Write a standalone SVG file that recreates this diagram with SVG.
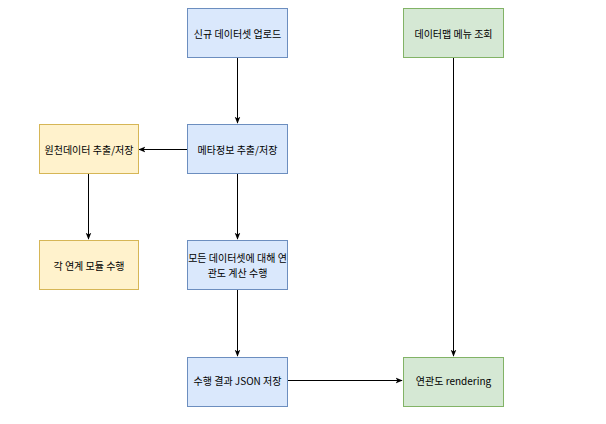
<svg xmlns="http://www.w3.org/2000/svg" width="606" height="424" viewBox="0 0 606 424">
<style>
.box{stroke-width:1}
.blue{fill:#dae8fc;stroke:#6c8ebf}
.yellow{fill:#fff2cc;stroke:#d6b656}
.green{fill:#d5e8d4;stroke:#82b366}
text{font-family:"Noto Sans CJK KR","Noto Sans",sans-serif;font-size:10px;fill:#000;text-anchor:middle;dominant-baseline:central}
.edge{stroke:#000;stroke-width:1;fill:none;marker-end:url(#arr)}
</style>
<defs>
<marker id="arr" viewBox="0 0 10 10" refX="9" refY="5" markerWidth="7" markerHeight="7" markerUnits="userSpaceOnUse" orient="auto">
<path d="M0,1 L10,5 L0,9 L2.5,5 Z" fill="#000"/>
</marker>
</defs>
<rect width="606" height="424" fill="#fff"/>
<g id="edges">
<path class="edge" d="M237.5,58 V123"/>
<path class="edge" d="M187,149.5 H139"/>
<path class="edge" d="M88.5,174 V239"/>
<path class="edge" d="M237.5,174 V239"/>
<path class="edge" d="M237.5,290 V356"/>
<path class="edge" d="M287,380.5 H402"/>
<path class="edge" d="M453.5,58 V356"/>
</g>
<g id="n1"><rect class="box blue" x="187.5" y="8.5" width="100" height="49"/><text x="237.5" y="33">신규 데이터셋 업로드</text></g>
<g id="n2"><rect class="box green" x="403.5" y="8.5" width="100" height="49"/><text x="453.5" y="33">데이터맵 메뉴 조회</text></g>
<g id="n3"><rect class="box blue" x="187.5" y="124.5" width="100" height="49"/><text x="237.5" y="149">메타정보 추출/저장</text></g>
<g id="n4"><rect class="box yellow" x="39.5" y="124.5" width="99" height="49"/><text x="89" y="149">원천데이터 추출/저장</text></g>
<g id="n5"><rect class="box yellow" x="39.5" y="240.5" width="99" height="49"/><text x="89" y="265">각 연계 모듈 수행</text></g>
<g id="n6"><rect class="box blue" x="187.5" y="240.5" width="100" height="49"/><text x="237.5" y="257.5">모든 데이터셋에 대해 연</text><text x="237.5" y="272">관도 계산 수행</text></g>
<g id="n7"><rect class="box blue" x="187.5" y="357.5" width="100" height="49"/><text x="237.5" y="380">수행 결과 JSON 저장</text></g>
<g id="n8"><rect class="box green" x="403.5" y="357.5" width="100" height="49"/><text x="453.5" y="380">연관도 rendering</text></g>
</svg>
